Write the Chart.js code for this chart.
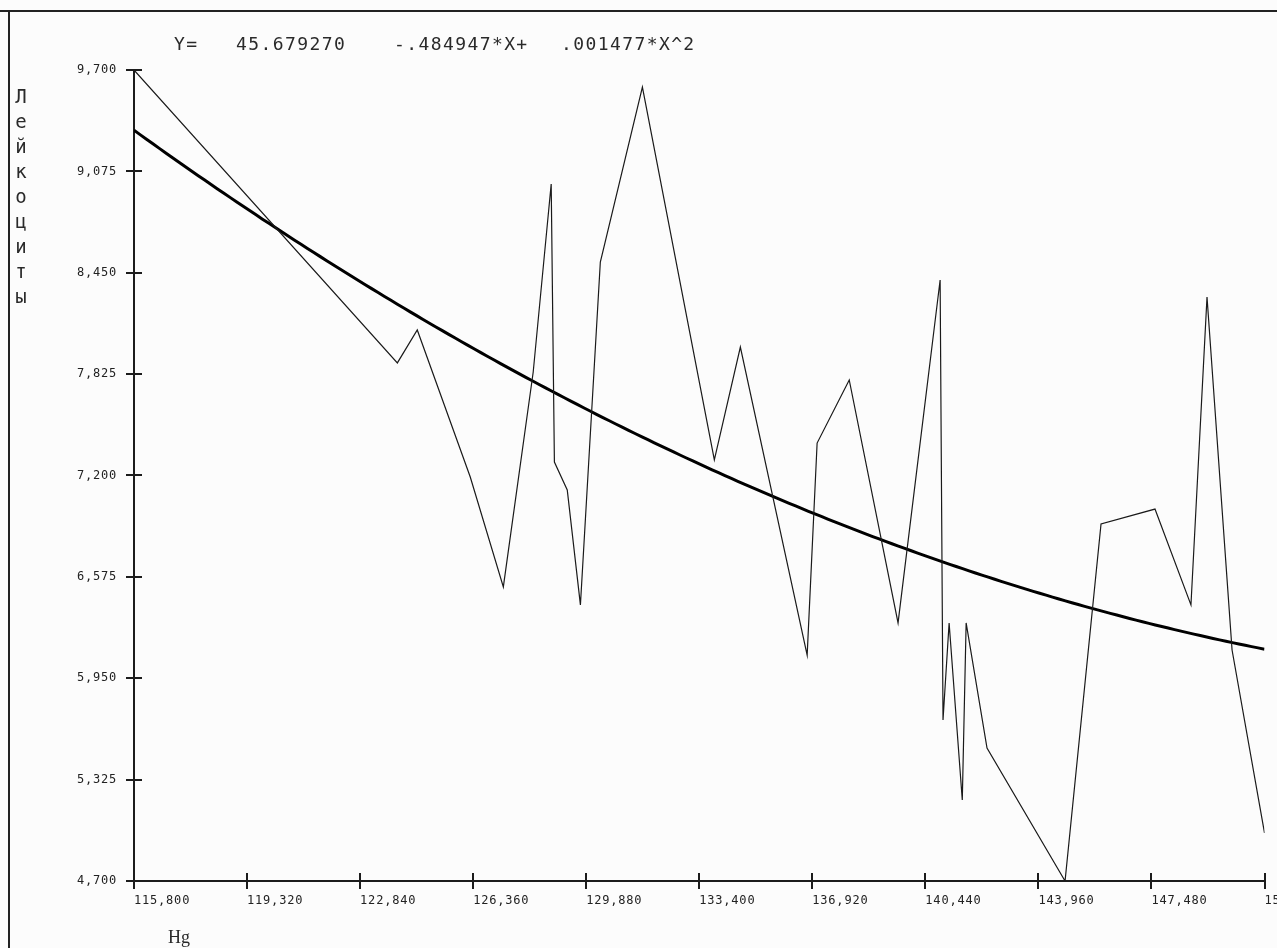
<!DOCTYPE html>
<html>
<head>
<meta charset="utf-8">
<title>Лейкоциты / Hg</title>
<script src="https://cdn.jsdelivr.net/npm/chart.js@4.4.0/dist/chart.umd.min.js"></script>
<style>
  html, body { margin: 0; padding: 0; background: #fcfcfc; }
  #wrap { width: 1277px; height: 948px; }
  canvas { display: block; }
</style>
</head>
<body>
<div id="wrap"><canvas id="chart" width="1277" height="948"></canvas></div>
<script>
// Hg (x) and leukocyte count (y) for each observation, in order along x
const hgValues = [115.80, 124.00, 124.62, 126.27, 127.30, 128.23, 128.79, 128.89, 129.29, 129.70,
                  130.32, 131.63, 133.87, 134.68, 136.76, 137.07, 138.07, 139.59, 140.90, 140.99,
                  141.18, 141.59, 141.71, 142.36, 144.79, 145.91, 147.59, 148.71, 149.21, 149.99,
                  151.00];
const leukocytes = [9.700, 7.894, 8.097, 7.191, 6.513, 7.838, 8.997, 7.283, 7.111, 6.402,
                    8.516, 9.595, 7.296, 7.992, 6.093, 7.400, 7.789, 6.291, 8.405, 5.693,
                    6.291, 5.199, 6.291, 5.520, 4.700, 6.901, 6.993, 6.402, 8.300, 6.124,
                    4.996];

// Quadratic regression Y = a + b*X + c*X^2 (coefficients as printed above the plot)
const fitCoef = [45.679270, -0.484947, 0.001477];
const fitText = ['Y=', '45.679270', '-.484947*X+', '.001477*X^2'];

// Axis ticks
const xTickValues = [115.80, 119.32, 122.84, 126.36, 129.88, 133.40, 136.92, 140.44, 143.96, 147.48, 151.00];
const yTickValues = [4.700, 5.325, 5.950, 6.575, 7.200, 7.825, 8.450, 9.075, 9.700];

const yTitle = 'Лейкоциты';
const xTitle = 'Hg';

const ink = '#1c1c1c';
const fmt = v => Number(v).toFixed(3).replace('.', ',');

// Regression curve evaluated along the x range
const xMin = xTickValues[0], xMax = xTickValues[xTickValues.length - 1];
const fitPoints = [];
for (let i = 0; i <= 176; i++) {
  const x = xMin + (xMax - xMin) * i / 176;
  fitPoints.push({ x, y: fitCoef[0] + fitCoef[1] * x + fitCoef[2] * x * x });
}

const backdrop = {
  id: 'backdrop',
  beforeDraw(chart) {
    const { ctx, width, height } = chart;
    ctx.save();
    ctx.fillStyle = '#fcfcfc';
    ctx.fillRect(0, 0, width, height);
    ctx.fillStyle = '#222';
    ctx.fillRect(0, 10, width, 2);     // top frame line
    ctx.fillRect(8, 10, 2, height);    // left frame line
    ctx.restore();
    ctx.letterSpacing = '0.8px';       // spacing for the tick labels
  }
};

const crossTicks = {
  id: 'crossTicks',
  afterDraw(chart) {
    const { ctx, chartArea, scales: { x, y } } = chart;
    ctx.save();
    ctx.strokeStyle = ink;
    ctx.lineWidth = 2;
    ctx.beginPath();
    x.ticks.forEach(t => {
      const px = Math.round(x.getPixelForValue(t.value));
      ctx.moveTo(px, chartArea.bottom - 8);
      ctx.lineTo(px, chartArea.bottom + 8);
    });
    y.ticks.forEach(t => {
      const py = Math.round(y.getPixelForValue(t.value));
      ctx.moveTo(chartArea.left - 8, py);
      ctx.lineTo(chartArea.left + 8, py);
    });
    ctx.stroke();
    ctx.restore();
  }
};

const captions = {
  id: 'captions',
  afterDraw(chart) {
    const { ctx } = chart;
    ctx.save();
    ctx.fillStyle = '#2a2a2a';
    ctx.textBaseline = 'alphabetic';
    ctx.textAlign = 'left';
    ctx.font = '18px "DejaVu Sans Mono"';
    ctx.letterSpacing = '1.4px';
    const starts = [174, 236, 394, 561];
    fitText.forEach((s, i) => ctx.fillText(s, starts[i], 50));

    // vertical axis title, one letter per row
    ctx.textAlign = 'center';
    ctx.letterSpacing = '0px';
    ctx.font = '19px "DejaVu Sans Mono"';
    Array.from(yTitle).forEach((ch, i) => {
      ctx.fillText(ch, 21, 103 + i * 25);
    });

    ctx.textAlign = 'left';
    ctx.font = '18px "Liberation Serif"';
    ctx.fillText(xTitle, 168, 943);
    ctx.restore();
  }
};

const tickFont = { family: 'DejaVu Sans Mono', size: 12 };

new Chart(document.getElementById('chart'), {
  type: 'scatter',
  data: {
    datasets: [
      {
        data: hgValues.map((x, i) => ({ x, y: leukocytes[i] })),
        showLine: true,
        borderColor: '#1a1a1a',
        borderWidth: 1.2,
        pointRadius: 0,
        tension: 0,
        fill: false
      },
      {
        data: fitPoints,
        showLine: true,
        borderColor: '#000',
        borderWidth: 3,
        pointRadius: 0,
        tension: 0,
        fill: false
      }
    ]
  },
  options: {
    responsive: false,
    animation: false,
    events: [],
    layout: { padding: { left: 0, top: 70, right: 12.5, bottom: 0 } },
    plugins: { legend: { display: false }, tooltip: { enabled: false }, title: { display: false } },
    scales: {
      x: {
        type: 'linear',
        min: xMin,
        max: xMax,
        afterBuildTicks: s => { s.ticks = xTickValues.map(v => ({ value: v })); },
        afterFit: s => { s.height = 67; s.paddingLeft = 0; s.paddingRight = 0; },
        grid: { display: true, drawOnChartArea: false, drawTicks: true, tickLength: 8, color: 'rgba(0,0,0,0)' },
        border: { display: true, color: ink, width: 2 },
        ticks: {
          autoSkip: false, maxRotation: 0, minRotation: 0, align: 'start', padding: 5,
          color: '#222', font: tickFont, callback: v => fmt(v)
        }
      },
      y: {
        type: 'linear',
        min: yTickValues[0],
        max: yTickValues[yTickValues.length - 1],
        afterBuildTicks: s => { s.ticks = yTickValues.map(v => ({ value: v })); },
        afterFit: s => { s.width = 134; s.paddingTop = 0; s.paddingBottom = 0; },
        grid: { display: true, drawOnChartArea: false, drawTicks: true, tickLength: 8, color: 'rgba(0,0,0,0)' },
        border: { display: true, color: ink, width: 2 },
        ticks: {
          autoSkip: false, padding: 9,
          color: '#222', font: tickFont, callback: v => fmt(v)
        }
      }
    }
  },
  plugins: [backdrop, crossTicks, captions]
});
</script>
</body>
</html>
